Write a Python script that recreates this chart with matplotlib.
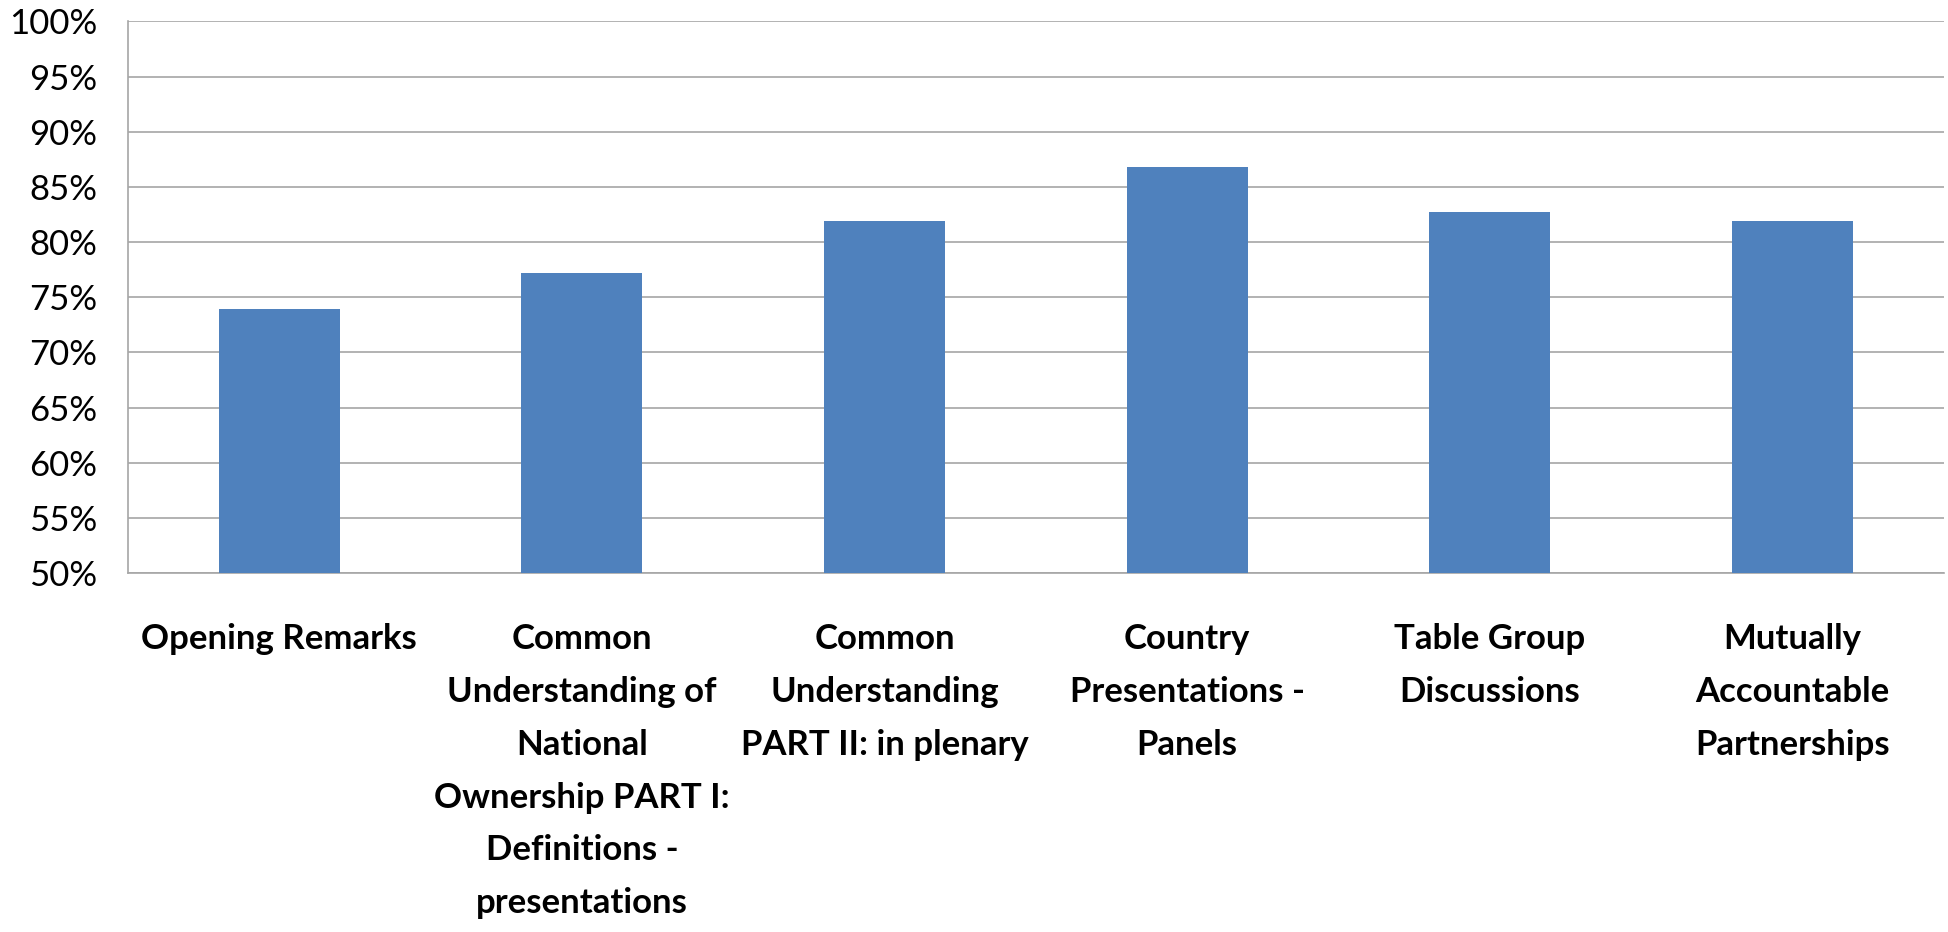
import matplotlib.pyplot as plt
from matplotlib.ticker import FuncFormatter

plt.rcParams['font.family'] = ['Lato', 'DejaVu Sans']

sessions = ['Opening Remarks',
            'Common\nUnderstanding of\nNational\nOwnership PART I:\nDefinitions -\npresentations',
            'Common\nUnderstanding\nPART II: in plenary',
            'Country\nPresentations -\nPanels',
            'Table Group\nDiscussions',
            'Mutually\nAccountable\nPartnerships']
scores = [73.9, 77.2, 81.9, 86.8, 82.7, 81.9]
y_ticks = [50, 55, 60, 65, 70, 75, 80, 85, 90, 95, 100]

fig = plt.figure(figsize=(19.48, 9.32), dpi=100)
ax = fig.add_axes([0.0657, 0.385, 0.932, 0.592])

x = range(len(sessions))
ax.bar(x, scores, width=0.4, color='#4F81BD', zorder=3)

ax.set_ylim(50, 100)
ax.set_xlim(-0.5, len(sessions) - 0.5)
ax.set_yticks(y_ticks)
ax.yaxis.set_major_formatter(FuncFormatter(lambda v, p: '{:.0f}%'.format(v)))
ax.grid(axis='y', color='#A6A6A6', linewidth=1.2, zorder=0)

ax.set_xticks(list(x))
ax.set_xticklabels(sessions, fontsize=25, fontweight='bold', linespacing=1.8, va='top')
ax.tick_params(axis='x', length=0, pad=36)
ax.tick_params(axis='y', length=0, pad=22, labelsize=25)

for side in ['top', 'right']:
    ax.spines[side].set_visible(False)
for side in ['left', 'bottom']:
    ax.spines[side].set_color('#A6A6A6')
    ax.spines[side].set_linewidth(1.2)

fig.savefig('out.png', dpi=100)
